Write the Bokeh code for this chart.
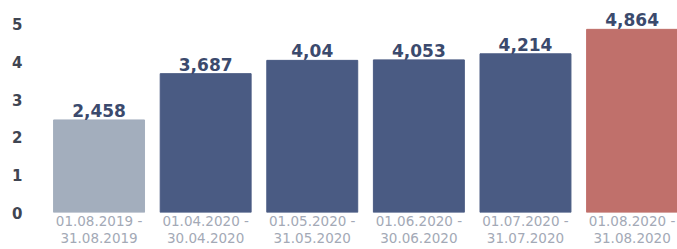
from bokeh.plotting import figure
from bokeh.models import ColumnDataSource, FixedTicker, Range1d
from bokeh.core.properties import value
from bokeh.embed import file_html
from bokeh.resources import INLINE

periods = ["01.08.2019 -\n31.08.2019", "01.04.2020 -\n30.04.2020", "01.05.2020 -\n31.05.2020",
           "01.06.2020 -\n30.06.2020", "01.07.2020 -\n31.07.2020", "01.08.2020 -\n31.08.2020"]
values = [2.458, 3.687, 4.04, 4.053, 4.214, 4.864]
value_labels = ["2,458", "3,687", "4,04", "4,053", "4,214", "4,864"]
bar_colors = ["#a3aebd", "#4a5b83", "#4a5b83", "#4a5b83", "#4a5b83", "#c0706b"]
y_ticks = [0, 1, 2, 3, 4, 5]

xs = list(range(len(values)))
src = ColumnDataSource(dict(x=xs, top=values, color=bar_colors, lab=value_labels))

p = figure(width=677, height=249, output_backend="svg", toolbar_location=None,
           x_range=Range1d(-0.643, 5.426), y_range=Range1d(0, 5.63),
           min_border_left=30, min_border_right=0, min_border_top=0, min_border_bottom=0)
p.outline_line_color = None
p.xgrid.grid_line_color = None
p.ygrid.grid_line_color = None
p.background_fill_color = "white"
p.border_fill_color = "white"

p.vbar(x="x", top="top", bottom=0, width=0.853, color="color", source=src)
p.text(x="x", y="top", text="lab", source=src, text_align="center", text_baseline="bottom",
       y_offset=-3, text_font=value("DejaVu Sans"), text_font_style="bold",
       text_font_size="17px", text_color="#3b4a6d")

p.yaxis.ticker = FixedTicker(ticks=y_ticks)
p.yaxis.axis_line_color = None
p.yaxis.major_tick_line_color = None
p.yaxis.minor_tick_line_color = None
p.yaxis.major_tick_out = 0
p.yaxis.major_tick_in = 0
p.yaxis.major_label_standoff = 8
p.yaxis.major_label_text_font = "DejaVu Sans"
p.yaxis.major_label_text_font_style = "bold"
p.yaxis.major_label_text_font_size = "15px"
p.yaxis.major_label_text_color = "#3f4552"

p.xaxis.ticker = FixedTicker(ticks=xs)
p.xaxis.major_label_overrides = {i: periods[i] for i in xs}
p.xaxis.axis_line_color = None
p.xaxis.major_tick_line_color = None
p.xaxis.minor_tick_line_color = None
p.xaxis.major_tick_out = 0
p.xaxis.major_tick_in = 0
p.xaxis.major_label_standoff = 0
p.xaxis.major_label_text_font = "DejaVu Sans"
p.xaxis.major_label_text_font_size = "13.5px"
p.xaxis.major_label_text_color = "#a3a9b6"
p.xaxis.major_label_text_line_height = 1.1

open("out.html", "w").write(file_html(p, INLINE))
